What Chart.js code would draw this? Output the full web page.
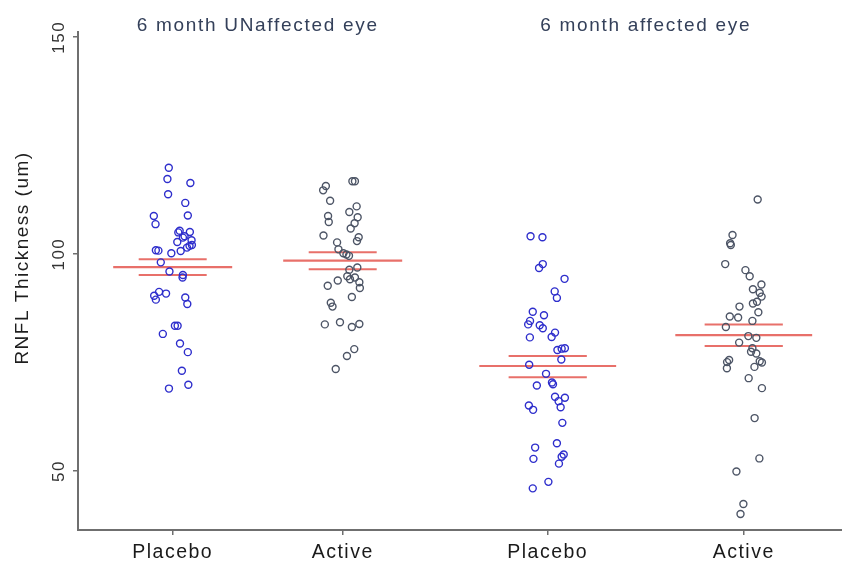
<!DOCTYPE html>
<html lang="en">
<head>
  <meta charset="UTF-8">
  <title>RNFL Thickness</title>
  <script src="https://cdn.jsdelivr.net/npm/chart.js"></script>
  <style>
    body { margin: 0; background: #fff; }
    #wrap { width: 842px; height: 568px; }
  </style>
</head>
<body>
  <div id="wrap"><canvas id="rnflChart" width="842" height="568"></canvas></div>
  <script>
    // group order: placebo / active for unaffected eye, then placebo / active for affected eye
    const groupLabels = ['Placebo', 'Active', 'Placebo', 'Active'];
    const groupPositions = [1, 2, 3.206, 4.359];
    const panelTitles = ['6 month UNaffected eye', '6 month affected eye'];
    const yTickValues = [50, 100, 150];

    const placeboUnaffY = [119.9, 117.3, 116.4, 113.8, 111.8, 108.9, 108.8, 106.9, 105.4, 105.0, 105.1, 104.1, 103.8, 103.2, 102.8, 101.9, 101.5, 102.1, 100.9, 100.8, 100.7, 100.2, 98.1, 96.0, 95.2, 94.6, 91.3, 90.4, 89.5, 90.9, 90.0, 88.5, 83.5, 83.5, 81.6, 79.4, 77.4, 73.1, 69.9, 69.0];
    const placeboUnaffJitter = [-0.023, -0.031, 0.104, -0.027, 0.074, 0.089, -0.111, -0.101, 0.041, 0.033, 0.101, 0.070, 0.060, 0.111, 0.027, 0.099, 0.084, 0.113, -0.099, -0.084, 0.047, -0.008, -0.070, -0.019, 0.060, 0.058, -0.080, -0.109, -0.099, -0.039, 0.074, 0.086, 0.013, 0.029, -0.058, 0.043, 0.089, 0.054, 0.092, -0.022];

    const activeUnaffY = [116.8, 116.8, 115.7, 114.7, 112.3, 111.0, 109.7, 108.8, 108.5, 107.4, 107.1, 105.9, 104.3, 103.9, 103.0, 102.7, 101.1, 100.2, 99.9, 99.6, 96.4, 96.9, 94.9, 94.2, 94.6, 93.9, 92.7, 93.5, 92.2, 90.1, 88.8, 87.9, 83.8, 84.3, 83.2, 83.9, 78.1, 76.5, 73.5];
    const activeUnaffJitter = [0.057, 0.072, -0.099, -0.115, -0.074, 0.082, 0.039, -0.086, 0.088, -0.082, 0.070, 0.047, -0.113, 0.094, 0.084, -0.033, -0.025, 0.004, 0.022, 0.037, 0.039, 0.086, 0.027, 0.043, 0.072, -0.029, -0.088, 0.098, 0.101, 0.054, -0.070, -0.060, -0.105, -0.016, 0.054, 0.098, 0.068, 0.025, -0.041];

    const placeboAffY = [104.1, 103.9, 97.7, 96.8, 94.3, 91.4, 89.9, 86.7, 85.9, 84.6, 83.8, 83.6, 82.9, 81.9, 80.9, 80.8, 77.9, 78.2, 78.3, 75.7, 74.5, 72.4, 70.4, 70.0, 69.7, 67.1, 66.9, 66.1, 64.7, 65.1, 64.1, 61.1, 56.4, 55.4, 52.8, 53.8, 53.3, 51.7, 47.5, 46.0];
    const placeboAffJitter = [-0.101, -0.031, -0.029, -0.051, 0.099, 0.041, 0.054, -0.088, -0.022, -0.104, -0.115, -0.047, -0.029, 0.043, 0.023, -0.105, 0.057, 0.082, 0.101, 0.080, -0.109, -0.010, 0.025, 0.031, -0.064, 0.043, 0.101, 0.064, 0.076, -0.111, -0.086, 0.086, 0.054, -0.074, -0.084, 0.094, 0.082, 0.066, 0.004, -0.088];

    const activeAffY = [112.6, 104.4, 102.5, 102.1, 97.7, 96.3, 94.9, 93.0, 91.9, 91.1, 90.2, 89.0, 88.6, 87.9, 86.6, 85.6, 85.4, 84.6, 83.2, 81.1, 80.7, 79.6, 78.3, 77.5, 77.1, 75.6, 75.1, 75.3, 75.0, 74.0, 73.7, 71.4, 69.1, 62.2, 52.9, 49.9, 42.4, 40.1];
    const activeAffJitter = [0.082, -0.066, -0.080, -0.076, -0.109, 0.010, 0.035, 0.104, 0.054, 0.094, 0.105, 0.078, 0.054, -0.025, 0.086, -0.082, -0.033, 0.051, -0.105, 0.027, 0.074, -0.027, 0.051, 0.043, 0.074, -0.086, -0.098, 0.094, 0.107, 0.063, -0.099, 0.029, 0.107, 0.064, 0.092, -0.043, -0.002, -0.019];

    // mean and +/- standard error lines per group
    const groupMeans = [97.0, 98.5, 74.2, 81.3];
    const groupUpper = [98.8, 100.4, 76.5, 83.8];
    const groupLower = [95.2, 96.5, 71.6, 78.8];

    const groupY = [placeboUnaffY, activeUnaffY, placeboAffY, activeAffY];
    const groupJitter = [placeboUnaffJitter, activeUnaffJitter, placeboAffJitter, activeAffJitter];

    const placeboColor = '#2e2ecc';
    const activeColor = '#4d5566';
    const meanColor = '#e8706a';
    const axisColor = '#6f6f6f';
    const panelScale = [1, 1, 1.15, 1.15];   // right panel is drawn a bit wider

    const datasets = [];

    groupY.forEach((ys, g) => {
      datasets.push({
        type: 'scatter',
        data: ys.map((y, i) => ({ x: groupPositions[g] + groupJitter[g][i], y: y })),
        borderColor: g % 2 === 0 ? placeboColor : activeColor,
        backgroundColor: 'rgba(0,0,0,0)',
        pointRadius: 3.5,
        borderWidth: 1.4,
        order: 0
      });
    });

    // horizontal mean / error lines
    function hLine(g, value, halfWidth, width) {
      const hw = halfWidth * panelScale[g];
      return {
        type: 'line',
        data: [{ x: groupPositions[g] - hw, y: value }, { x: groupPositions[g] + hw, y: value }],
        borderColor: meanColor,
        borderWidth: width,
        pointRadius: 0,
        fill: false,
        order: 1
      };
    }
    groupMeans.forEach((m, g) => {
      datasets.push(hLine(g, m, 0.35, 2.2));
      datasets.push(hLine(g, groupUpper[g], 0.2, 2));
      datasets.push(hLine(g, groupLower[g], 0.2, 2));
    });

    // texts that the axes do not draw themselves
    const textPlugin = {
      id: 'extraText',
      beforeDraw(chart) {
        chart.ctx.letterSpacing = '1.5px';
      },
      afterDraw(chart) {
        const ctx = chart.ctx;
        const xs = chart.scales.x;
        const ys = chart.scales.y;
        ctx.save();
        ctx.textBaseline = 'middle';
        ctx.textAlign = 'center';

        // panel titles
        ctx.fillStyle = '#34405a';
        ctx.font = '19px "Liberation Sans", Arial, sans-serif';
        ctx.letterSpacing = '1.7px';
        panelTitles.forEach((t, p) => {
          const cx = (xs.getPixelForValue(groupPositions[p * 2]) + xs.getPixelForValue(groupPositions[p * 2 + 1])) / 2;
          ctx.fillText(t, cx, 26);
        });
        ctx.letterSpacing = '1.5px';

        // rotated y tick labels
        ctx.fillStyle = '#333333';
        ctx.font = '17px "Liberation Sans", Arial, sans-serif';
        yTickValues.forEach(v => {
          ctx.save();
          ctx.translate(ys.left + 59, ys.getPixelForValue(v));
          ctx.rotate(-Math.PI / 2);
          ctx.fillText(String(v), 0, 0);
          ctx.restore();
        });

        // y axis title
        ctx.fillStyle = '#1e1e1e';
        ctx.font = '19px "Liberation Sans", Arial, sans-serif';
        ctx.translate(23, 258);
        ctx.rotate(-Math.PI / 2);
        ctx.fillText('RNFL Thickness (um)', 0, 0);
        ctx.restore();
      }
    };

    new Chart(document.getElementById('rnflChart'), {
      type: 'scatter',
      data: { datasets: datasets },
      plugins: [textPlugin],
      options: {
        responsive: false,
        animation: false,
        devicePixelRatio: 1,
        layout: { autoPadding: false, padding: { top: 32, right: 0, left: 0, bottom: 0 } },
        plugins: { legend: { display: false }, tooltip: { enabled: false } },
        scales: {
          x: {
            type: 'linear',
            min: 0.443,
            max: 4.937,
            afterBuildTicks: scale => { scale.ticks = groupPositions.map(v => ({ value: v })); },
            afterFit: scale => { scale.height = 38; },
            grid: { drawOnChartArea: false, drawTicks: true, tickLength: 5, color: axisColor, lineWidth: 1.5 },
            border: { display: true, color: axisColor, width: 2 },
            ticks: {
              padding: 6,
              color: '#1a1a1a',
              font: { family: '"Liberation Sans", Arial, sans-serif', size: 19.5 },
              maxRotation: 0,
              autoSkip: false,
              callback: (value, index) => groupLabels[index]
            }
          },
          y: {
            type: 'linear',
            min: 36.4,
            max: 151.2,
            afterBuildTicks: scale => { scale.ticks = yTickValues.map(v => ({ value: v })); },
            afterFit: scale => { scale.width = 78; },
            grid: { drawOnChartArea: false, drawTicks: true, tickLength: 5, color: axisColor, lineWidth: 1.5 },
            border: { display: true, color: axisColor, width: 2 },
            ticks: { display: false }
          }
        }
      }
    });
  </script>
</body>
</html>
